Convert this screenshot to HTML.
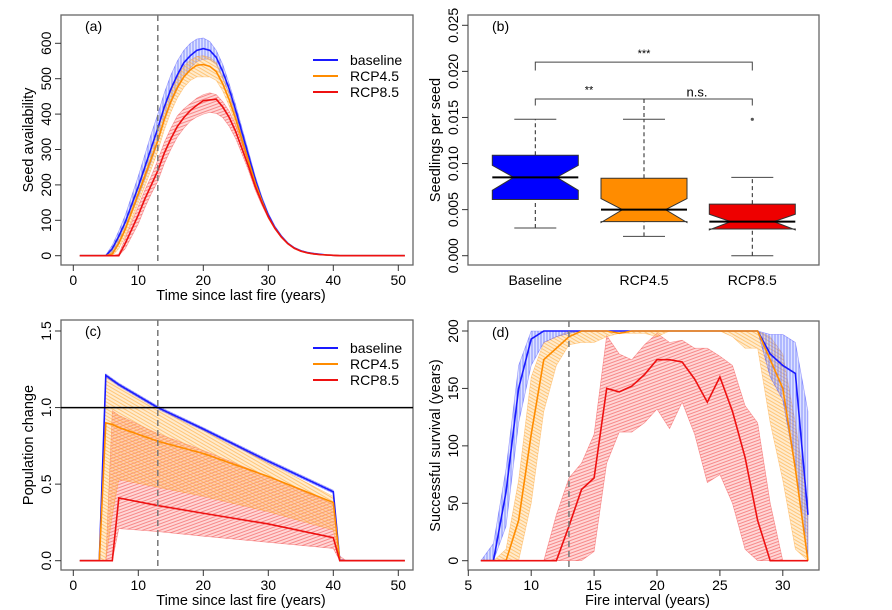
<!DOCTYPE html>
<html><head><meta charset="utf-8"><style>
body{margin:0;background:#fff}
svg{display:block;font-family:"Liberation Sans",sans-serif}
</style></head><body>
<svg id="c" width="892" height="610" xmlns="http://www.w3.org/2000/svg">
<defs>
<pattern id="hb" width="3" height="3" patternUnits="userSpaceOnUse"><rect width="3" height="3" fill="rgba(120,140,255,0.25)"/><line x1="1" y1="0" x2="1" y2="3" stroke="#4455ff" stroke-width="0.6"/></pattern>
<pattern id="ho" width="3" height="3" patternUnits="userSpaceOnUse" patternTransform="rotate(30)"><rect width="3" height="3" fill="rgba(255,190,90,0.3)"/><line x1="0" y1="1" x2="3" y2="1" stroke="#ffad40" stroke-width="0.6"/></pattern>
<pattern id="hr" width="3" height="3" patternUnits="userSpaceOnUse" patternTransform="rotate(-20)"><rect width="3" height="3" fill="rgba(255,120,120,0.3)"/><line x1="0" y1="1" x2="3" y2="1" stroke="#f05555" stroke-width="0.6"/></pattern>
</defs>
</svg>
<script>
// ---------- Panel (a) data ----------
const aYears=[1,2,3,4,5,6,7,8,9,10,11,12,13,14,15,16,17,18,19,20,21,22,23,24,25,26,27,28,29,30,31,32,33,34,35,36,37,38,39,40,41,42,43,44,45,46,47,48,49,50,51];
const aBaseMean=[0,0,0,0,0,20,55,95,145,195,250,305,360,420,470,510,545,565,580,585,580,560,520,470,410,345,280,215,160,115,80,55,35,22,14,9,6,4,2,1,0,0,0,0,0,0,0,0,0,0,0];
const aBaseHi=[0,0,0,0,2,30,70,115,170,225,285,345,400,460,510,550,580,600,612,615,605,580,540,485,425,358,292,225,168,121,85,58,37,23,15,10,6,4,2,1,0,0,0,0,0,0,0,0,0,0,0];
const aBaseLo=[0,0,0,0,0,10,40,75,120,165,215,265,320,380,430,470,505,530,548,555,555,540,500,455,395,332,268,205,152,109,75,52,33,21,13,8,5,3,2,1,0,0,0,0,0,0,0,0,0,0,0];
const a45Mean=[0,0,0,0,0,5,35,75,125,175,225,275,325,385,435,475,505,525,538,540,535,520,485,440,385,325,265,205,155,110,78,53,34,21,13,8,5,3,2,1,0,0,0,0,0,0,0,0,0,0,0];
const a45Hi=[0,0,0,0,0,15,50,95,150,200,255,305,355,415,465,505,535,552,563,565,560,545,505,458,400,338,276,214,161,115,81,55,35,22,14,9,6,4,2,1,0,0,0,0,0,0,0,0,0,0,0];
const a45Lo=[0,0,0,0,0,0,20,55,100,150,195,245,295,355,405,445,475,495,505,505,505,495,465,422,370,312,254,196,149,105,75,51,33,20,12,8,5,3,2,1,0,0,0,0,0,0,0,0,0,0,0];
const a85Mean=[0,0,0,0,0,0,0,35,75,115,160,200,240,290,330,365,390,410,425,438,440,442,420,390,350,300,250,195,150,110,78,53,34,21,13,8,5,3,2,1,0,0,0,0,0,0,0,0,0,0,0];
const a85Hi=[0,0,0,0,0,0,5,50,95,140,185,225,270,320,360,395,415,430,445,455,460,455,435,408,368,315,262,205,157,115,81,55,35,22,14,9,6,4,2,1,0,0,0,0,0,0,0,0,0,0,0];
const a85Lo=[0,0,0,0,0,0,0,20,55,90,135,175,210,260,300,335,360,380,392,400,405,402,390,365,330,285,238,185,143,105,75,51,33,20,12,8,5,3,2,1,0,0,0,0,0,0,0,0,0,0,0];
const aYTicks=[0,100,200,300,400,500,600];
const xTicks50=[0,10,20,30,40,50];
// ---------- Panel (b) data ----------
const bCats=["Baseline","RCP4.5","RCP8.5"];
const bWhiskLo=[0.003,0.0021,0.0];
const bQ1=[0.0061,0.0037,0.0029];
const bMed=[0.0085,0.005,0.0037];
const bQ3=[0.0109,0.0084,0.0056];
const bWhiskHi=[0.0148,0.0148,0.0085];
const bNotchLo=[0.0071,0.0036,0.0028];
const bNotchHi=[0.0098,0.0062,0.0045];
const bOutliers=[null,null,0.0148];
const bYTicks=["0.000","0.005","0.010","0.015","0.020","0.025"];
// ---------- Panel (c) data ----------
const cYears=[1,4,5,6,7,13,20,30,40,41,42,51];
const cBaseMean=[0,0,1.21,1.18,1.15,1.0,0.86,0.65,0.45,0,0,0];
const cBaseHi=[0,0,1.22,1.19,1.16,1.01,0.87,0.66,0.46,0.01,0,0];
const cBaseLo=[0,0,1.2,1.17,1.14,0.99,0.85,0.64,0.44,0,0,0];
const c45Mean=[0,0,0.9,0.89,0.87,0.78,0.7,0.55,0.38,0,0,0];
const c45Hi=[0,0,1.21,1.18,1.15,1.0,0.86,0.64,0.42,0,0,0];
const c45Lo=[0,0,0,0.3,0.53,0.48,0.42,0.32,0.2,0,0,0];
const c85Mean=[0,0,0,0,0.41,0.36,0.31,0.24,0.15,0,0,0];
const c85Hi=[0,0,0,0.98,0.95,0.83,0.72,0.55,0.37,0.03,0,0];
const c85Lo=[0,0,0,0,0.21,0.19,0.16,0.12,0.08,0,0,0];
const cYTicks=["0.0","0.5","1.0","1.5"];
// ---------- Panel (d) data ----------
const dYears=[6,7,8,9,10,11,12,13,14,15,16,17,18,19,20,21,22,23,24,25,26,27,28,29,30,31,32];
const dBaseMean=[0,0,60,150,193,200,200,200,200,200,200,200,200,200,200,200,200,200,200,200,200,200,200,180,170,163,40];
const dBaseHi=[0,15,80,170,200,200,200,200,200,200,200,200,200,200,200,200,200,200,200,200,200,200,200,197,197,190,130];
const dBaseLo=[0,0,30,120,170,190,195,198,200,200,200,200,200,200,200,200,200,200,200,200,200,200,200,160,140,80,0];
const d45Mean=[0,0,0,35,110,175,185,195,200,200,200,198,200,200,200,200,200,200,200,200,200,200,200,175,150,80,0];
const d45Hi=[0,0,10,70,160,190,195,200,200,200,200,200,200,200,200,200,200,200,200,200,200,200,200,195,180,120,50];
const d45Lo=[0,0,0,0,50,130,170,188,190,190,195,198,198,198,195,200,200,200,200,200,195,185,185,120,70,10,0];
const d85Mean=[0,0,0,0,0,0,0,30,62,72,150,147,152,162,175,175,173,158,138,160,130,90,35,0,0,0,0];
const d85Hi=[0,0,0,0,0,0,40,72,85,110,196,180,175,188,198,190,192,185,185,178,170,135,120,50,0,0,0];
const d85Lo=[0,0,0,0,0,0,0,0,0,8,85,112,112,120,132,115,138,110,68,75,50,10,0,0,0,0,0];
const dXTicks=[5,10,15,20,25,30];
const dYTicks=[0,50,100,150,200];

const svg=document.getElementById('c');
const NS="http://www.w3.org/2000/svg";
function mk(tag,attrs,parent){const e=document.createElementNS(NS,tag);for(const k in attrs)e.setAttribute(k,attrs[k]);(parent||svg).appendChild(e);return e;}
function txt(x,y,s,size,anchor,rot,parent){const t=mk('text',{x:x,y:y,'font-size':size,'text-anchor':anchor||'middle',fill:'#000'},parent);if(rot)t.setAttribute('transform','rotate(-90 '+x+' '+y+')');t.textContent=s;return t;}

function panel(name,box,xs,ys,xticks,yticks,yvals,xlabel,ylabel,tag,xticklabels){
  const g=mk('g',{});
  
  
  const fr=mk('rect',{x:box[0],y:box[1],width:box[2]-box[0],height:box[3]-box[1],fill:'none',stroke:'#666','stroke-width':1.3},g);
  
  
  if(xticks){
    const xa=mk('g',{},g);
    
    
    xticks.forEach((v,i)=>{const X=xs(v);mk('line',{x1:X,x2:X,y1:box[3],y2:box[3]+6,stroke:'#333'},xa);const t=txt(X,box[3]+20,xticklabels?xticklabels[i]:String(v),14,'middle',false,xa);});
  }
  const ya=mk('g',{},g);
  
  
  yvals.forEach((v,i)=>{const Y=ys(v);mk('line',{x1:box[0],x2:box[0]-6,y1:Y,y2:Y,stroke:'#333'},ya);const t=txt(box[0]-10,Y,yticks[i],14,'middle',true,ya);});
  const xl=txt((box[0]+box[2])/2+4,box[3]+35,xlabel,14.5,'middle',false,g);
  
  
  const yl=txt(box[0]-28,(box[1]+box[3])/2,ylabel,14.5,'middle',true,g);
  
  
  const pt=txt(box[0]+24,box[1]+16,tag,14,'start',false,g);
  
  
  return g;
}
function band(g,xsArr,lo,hi,xs,ys,pat,col,name){
  let d='M';xsArr.forEach((x,i)=>{d+=xs(x)+','+ys(hi[i])+' L';});
  for(let i=xsArr.length-1;i>=0;i--){d+=xs(xsArr[i])+','+ys(lo[i])+(i?' L':' Z');}
  const p=mk('path',{d:d,fill:'url(#'+pat+')',stroke:col,'stroke-width':0.6,'stroke-opacity':0.4},g);
  
  
}
function line(g,xsArr,v,xs,ys,col,name,w){
  const pts=xsArr.map((x,i)=>xs(x)+','+ys(v[i])).join(' ');
  const p=mk('polyline',{points:pts,fill:'none',stroke:col,'stroke-width':w||1.6},g);
  
  
}
function legend(g,x,y){
  [['baseline','#1a1aff'],['RCP4.5','#ff8c00'],['RCP8.5','#ee1111']].forEach((e,i)=>{
    const lg=mk('g',{},g);
    
    
    mk('line',{x1:x,x2:x+25,y1:y+i*16,y2:y+i*16,stroke:e[1],'stroke-width':2},lg);
    txt(x+37,y+i*16+5,e[0],14,'start',false,lg);
  });
}
function vdash(g,X,y1,y2){const l=mk('line',{x1:X,x2:X,y1:y1,y2:y2,stroke:'#777','stroke-width':1.5,'stroke-dasharray':'6,4'},g);}

// Panel a
(function(){
  const box=[61,15,413,265];
  const xs=v=>73.3+v*6.5, ys=v=>255.7-v*(212.4/600);
  const g=panel('panel-a',box,xs,ys,xTicks50,aYTicks.map(String),aYTicks,'Time since last fire (years)','Seed availability','(a)');
  band(g,aYears,aBaseLo,aBaseHi,xs,ys,'hb','#1a1aff','band-baseline');
  band(g,aYears,a45Lo,a45Hi,xs,ys,'ho','#ff8c00','band-rcp45');
  band(g,aYears,a85Lo,a85Hi,xs,ys,'hr','#ee1111','band-rcp85');
  line(g,aYears,aBaseMean,xs,ys,'#1a1aff','line-baseline');
  line(g,aYears,a45Mean,xs,ys,'#ff8c00','line-rcp45');
  line(g,aYears,a85Mean,xs,ys,'#ee1111','line-rcp85');
  vdash(g,xs(13),box[1],box[3]);
  legend(g,313,60);
})();

// Panel b
(function(){
  const box=[468,15,819,265];
  const ys=v=>255.7-v*(230.4/0.025);
  const cx=[535.3,644,752.3];
  const yv=bYTicks.map(Number);
  const g=panel('panel-b',box,null,ys,null,bYTicks,yv,'','Seedlings per seed','(b)');
  const cols=['#0000ff','#ff8c00','#ee0000'];
  bCats.forEach((c,i)=>{
    const bg=mk('g',{},g);
    
    
    const X=cx[i],hw=43,nw=21.5;
    mk('line',{x1:X,x2:X,y1:ys(bWhiskLo[i]),y2:ys(bQ1[i]),stroke:'#222','stroke-dasharray':'4,3'},bg);
    mk('line',{x1:X,x2:X,y1:ys(bQ3[i]),y2:ys(bWhiskHi[i]),stroke:'#222','stroke-dasharray':'4,3'},bg);
    mk('line',{x1:X-21,x2:X+21,y1:ys(bWhiskLo[i]),y2:ys(bWhiskLo[i]),stroke:'#444'},bg);
    mk('line',{x1:X-21,x2:X+21,y1:ys(bWhiskHi[i]),y2:ys(bWhiskHi[i]),stroke:'#444'},bg);
    const d=['M',X-hw,ys(bQ3[i]),'L',X+hw,ys(bQ3[i]),'L',X+hw,ys(bNotchHi[i]),'L',X+nw,ys(bMed[i]),'L',X+hw,ys(bNotchLo[i]),'L',X+hw,ys(bQ1[i]),'L',X-hw,ys(bQ1[i]),'L',X-hw,ys(bNotchLo[i]),'L',X-nw,ys(bMed[i]),'L',X-hw,ys(bNotchHi[i]),'Z'].join(' ');
    mk('path',{d:d,fill:cols[i],stroke:'#333','stroke-width':1},bg);
    mk('line',{x1:X-hw,x2:X+hw,y1:ys(bMed[i]),y2:ys(bMed[i]),stroke:'#000','stroke-width':2},bg);
    if(bOutliers[i]!=null)mk('circle',{cx:X,cy:ys(bOutliers[i]),r:1.6,fill:'#555'},bg);
    const t=txt(X,box[3]+20,c,14,'middle',false,g);
    
    
  });
  const br=mk('g',{},g);
  
  
  mk('polyline',{points:[cx[0],ys(0.0201),cx[0],ys(0.021),cx[2],ys(0.021),cx[2],ys(0.0201)].join(' '),fill:'none',stroke:'#444'},br);
  mk('polyline',{points:[cx[0],ys(0.0163),cx[0],ys(0.017),cx[2],ys(0.017),cx[2],ys(0.0163)].join(' '),fill:'none',stroke:'#444'},br);
  mk('line',{x1:cx[1],x2:cx[1],y1:ys(0.017),y2:ys(0.0148),stroke:'#222','stroke-dasharray':'4,3'},br);
  txt(cx[1],ys(0.0218)+2,'***',11,'middle',false,br);
  txt(589,ys(0.0178)+2,'**',11,'middle',false,br);
  txt(697,ys(0.0175)+2,'n.s.',13,'middle',false,br);
})();

// Panel c
(function(){
  const box=[61,320,413,570];
  const xs=v=>73.3+v*6.5, ys=v=>560.7-v*(229.7/1.5);
  const g=panel('panel-c',box,xs,ys,xTicks50,cYTicks,cYTicks.map(Number),'Time since last fire (years)','Population change','(c)');
  band(g,cYears,c85Lo,c85Hi,xs,ys,'hr','#ee1111','band-rcp85');
  band(g,cYears,c45Lo,c45Hi,xs,ys,'ho','#ff8c00','band-rcp45');
  band(g,cYears,cBaseLo,cBaseHi,xs,ys,'hb','#1a1aff','band-baseline');
  line(g,cYears,cBaseMean,xs,ys,'#1a1aff','line-baseline');
  line(g,cYears,c45Mean,xs,ys,'#ff8c00','line-rcp45');
  line(g,cYears,c85Mean,xs,ys,'#ee1111','line-rcp85');
  const h=mk('line',{x1:box[0],x2:box[2],y1:ys(1),y2:ys(1),stroke:'#000','stroke-width':1.5},g);
  
  
  vdash(g,xs(13),box[1],box[3]);
  legend(g,313,348);
})();

// Panel d
(function(){
  const box=[468,321,819,570];
  const xs=v=>468.3+(v-5)*12.58, ys=v=>560.7-v*(229.7/200);
  const g=panel('panel-d',box,xs,ys,dXTicks,dYTicks.map(String),dYTicks,'Fire interval (years)','Successful survival (years)','(d)');
  band(g,dYears,d85Lo,d85Hi,xs,ys,'hr','#ee1111','band-rcp85');
  band(g,dYears,d45Lo,d45Hi,xs,ys,'ho','#ff8c00','band-rcp45');
  band(g,dYears,dBaseLo,dBaseHi,xs,ys,'hb','#1a1aff','band-baseline');
  line(g,dYears,dBaseMean,xs,ys,'#1a1aff','line-baseline');
  line(g,dYears,d45Mean,xs,ys,'#ff8c00','line-rcp45');
  line(g,dYears,d85Mean,xs,ys,'#ee1111','line-rcp85');
  vdash(g,xs(13),box[1],box[3]);
})();
</script>
</body></html>
